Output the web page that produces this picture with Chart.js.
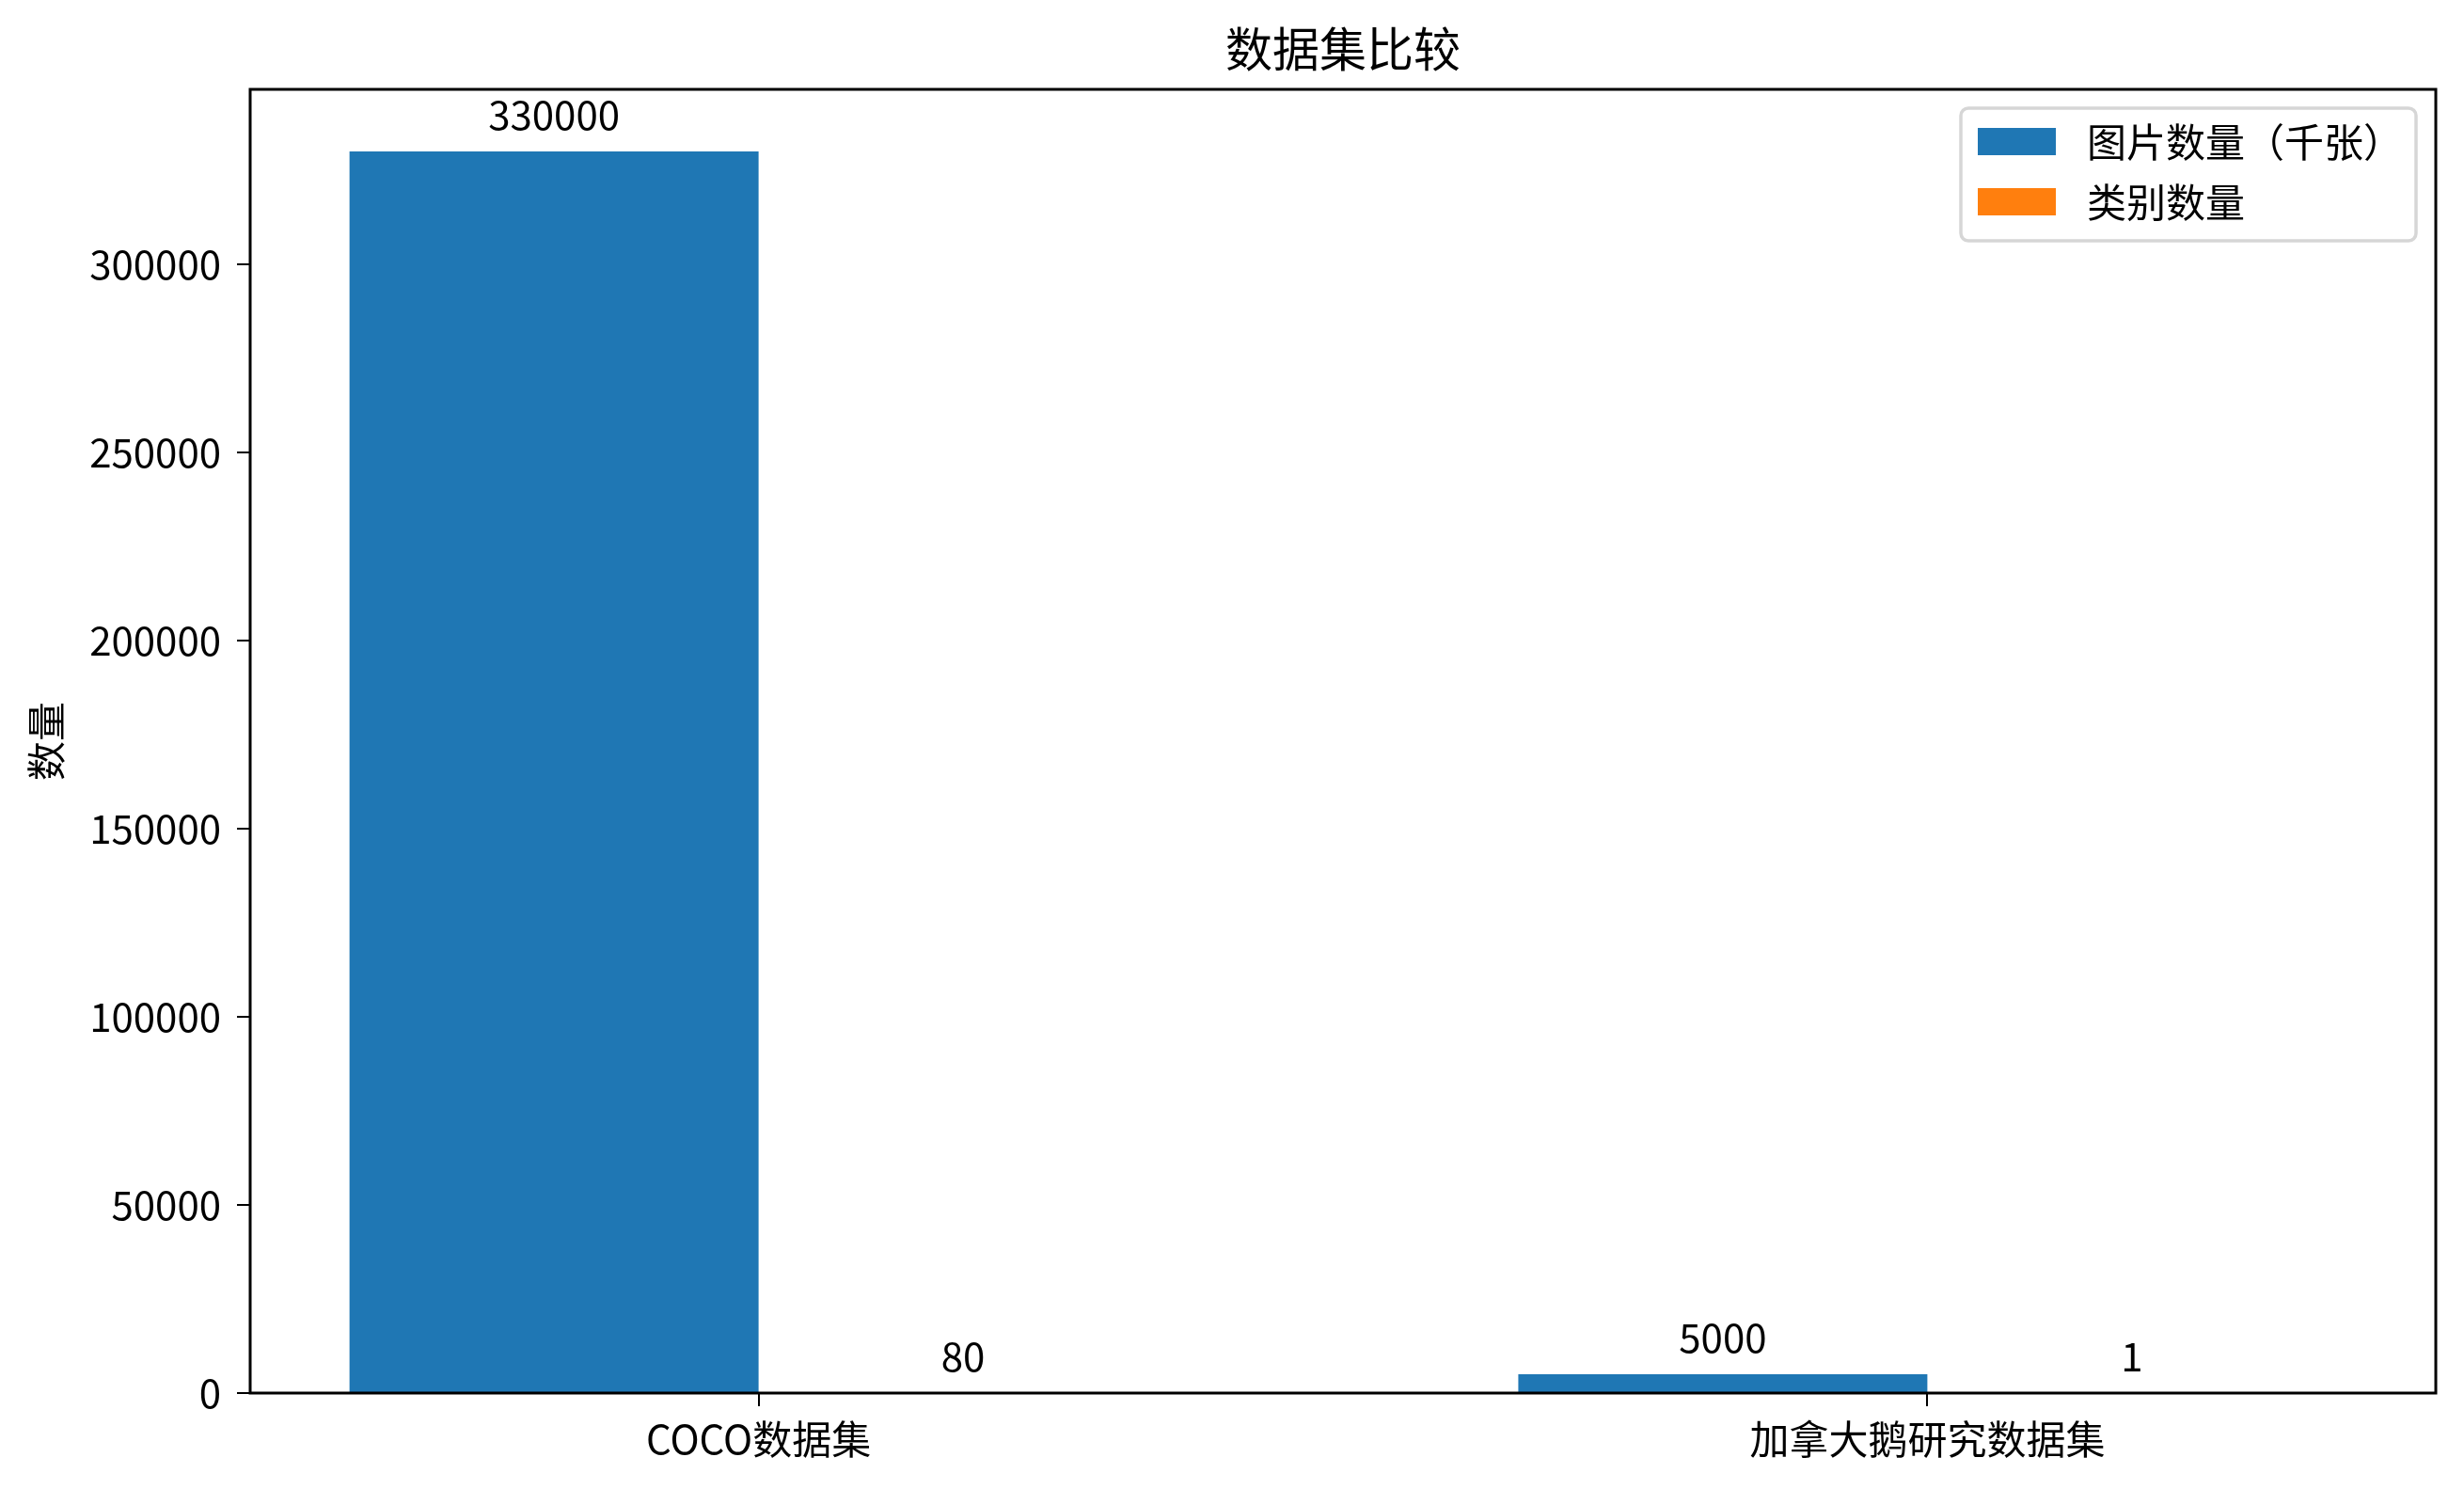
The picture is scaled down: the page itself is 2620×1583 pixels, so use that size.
<!DOCTYPE html>
<html>
<head>
<meta charset="utf-8">
<script src="https://cdn.jsdelivr.net/npm/chart.js@4.4.1/dist/chart.umd.min.js"></script>
<style>
  html, body { margin: 0; padding: 0; background: #ffffff; }
  canvas { display: block; }
</style>
</head>
<body>
<canvas id="c" width="2620" height="1583"></canvas>
<script>
// ---- data ----
const categories = ['COCO数据集', '加拿大鹅研究数据集'];
const seriesNames = ['图片数量（千张）', '类别数量'];
const imageCounts = [330000, 5000];
const classCounts = [80, 1];
const yTickValues = [0, 50000, 100000, 150000, 200000, 250000, 300000];
const chartTitle = '数据集比较';
const yAxisTitle = '数量';
const seriesColors = ['#1f77b4', '#ff7f0e'];

const FONT = "'Noto Sans CJK SC', 'Noto Sans', sans-serif";

const toPoints = (vals) => vals.map((v, i) => ({ x: i, y: v }));

// value labels above bars
const valueLabels = {
  id: 'valueLabels',
  afterDatasetsDraw(chart) {
    const ctx = chart.ctx;
    ctx.save();
    ctx.font = '42px ' + FONT;
    ctx.fillStyle = '#000';
    ctx.textAlign = 'center';
    ctx.textBaseline = 'alphabetic';
    chart.data.datasets.forEach((ds, i) => {
      const meta = chart.getDatasetMeta(i);
      meta.data.forEach((bar, j) => {
        ctx.fillText(String(ds.data[j].y), bar.x, bar.y - 23);
      });
    });
    ctx.restore();
  }
};

// axes frame (all four spines)
const frame = {
  id: 'frame',
  afterDatasetsDraw(chart) {
    const { ctx, chartArea: a } = chart;
    ctx.save();
    ctx.strokeStyle = '#000';
    ctx.lineWidth = 3;
    ctx.strokeRect(a.left, a.top, a.right - a.left, a.bottom - a.top);
    ctx.restore();
  }
};

// legend box in upper right of plot
const legendBox = {
  id: 'legendBox',
  afterDraw(chart) {
    const { ctx, chartArea: a } = chart;
    const w = 484, h = 141;
    const left = a.right - 21 - w;
    const top = a.top + 20;
    const r = 8;
    ctx.save();
    ctx.beginPath();
    ctx.moveTo(left + r, top);
    ctx.arcTo(left + w, top, left + w, top + h, r);
    ctx.arcTo(left + w, top + h, left, top + h, r);
    ctx.arcTo(left, top + h, left, top, r);
    ctx.arcTo(left, top, left + w, top, r);
    ctx.closePath();
    ctx.fillStyle = 'rgba(255,255,255,0.8)';
    ctx.fill();
    ctx.strokeStyle = '#d6d6d6';
    ctx.lineWidth = 3.5;
    ctx.stroke();
    ctx.font = '42px ' + FONT;
    ctx.textAlign = 'left';
    ctx.textBaseline = 'middle';
    chart.data.datasets.forEach((ds, i) => {
      const sy = top + 21 + i * 64;
      ctx.fillStyle = ds.backgroundColor;
      ctx.fillRect(left + 18, sy, 83, 29);
      ctx.fillStyle = '#000';
      ctx.fillText(ds.label, left + 134, sy + 15.5);
    });
    ctx.restore();
  }
};

Chart.defaults.color = '#000';
Chart.defaults.font.family = FONT;

new Chart(document.getElementById('c'), {
  type: 'bar',
  data: {
    datasets: [
      { label: seriesNames[0], data: toPoints(imageCounts), backgroundColor: seriesColors[0], borderWidth: 0 },
      { label: seriesNames[1], data: toPoints(classCounts), backgroundColor: seriesColors[1], borderWidth: 0 }
    ]
  },
  options: {
    responsive: false,
    devicePixelRatio: 1,
    animation: false,
    categoryPercentage: 0.7,
    barPercentage: 1.0,
    layout: { padding: { left: 0, right: 30, top: 0, bottom: 0 } },
    plugins: {
      legend: { display: false },
      tooltip: { enabled: false },
      title: {
        display: true,
        fullSize: false,
        text: chartTitle,
        color: '#000',
        font: { family: FONT, size: 50, weight: 'normal', lineHeight: 1.2 },
        padding: { top: 22, bottom: 13 }
      }
    },
    scales: {
      x: {
        type: 'linear',
        min: -0.435,
        max: 1.435,
        offset: false,
        grid: { display: true, drawOnChartArea: false, drawTicks: true, tickLength: 14, color: '#000', lineWidth: 2, offset: false },
        border: { display: false },
        ticks: {
          font: { family: FONT, size: 42 },
          color: '#000',
          padding: 10,
          maxRotation: 0,
          autoSkip: false,
          callback: (v) => (categories[v] !== undefined ? categories[v] : '')
        },
        afterBuildTicks: (s) => { s.ticks = categories.map((_, i) => ({ value: i })); },
        afterFit: (s) => { s.height = 102; }
      },
      y: {
        type: 'linear',
        min: 0,
        max: 346500,
        grid: { display: true, drawOnChartArea: false, drawTicks: true, tickLength: 14, color: '#000', lineWidth: 2 },
        border: { display: false },
        ticks: {
          font: { family: FONT, size: 42 },
          color: '#000',
          padding: 17,
          callback: (v) => String(v)
        },
        afterBuildTicks: (s) => { s.ticks = yTickValues.map((v) => ({ value: v })); },
        afterFit: (s) => { s.width = 266; },
        title: {
          display: true,
          text: yAxisTitle,
          color: '#000',
          font: { family: FONT, size: 42, lineHeight: 1.2 },
          padding: { top: 24, bottom: 0 }
        }
      }
    }
  },
  plugins: [frame, valueLabels, legendBox]
});
</script>
</body>
</html>
